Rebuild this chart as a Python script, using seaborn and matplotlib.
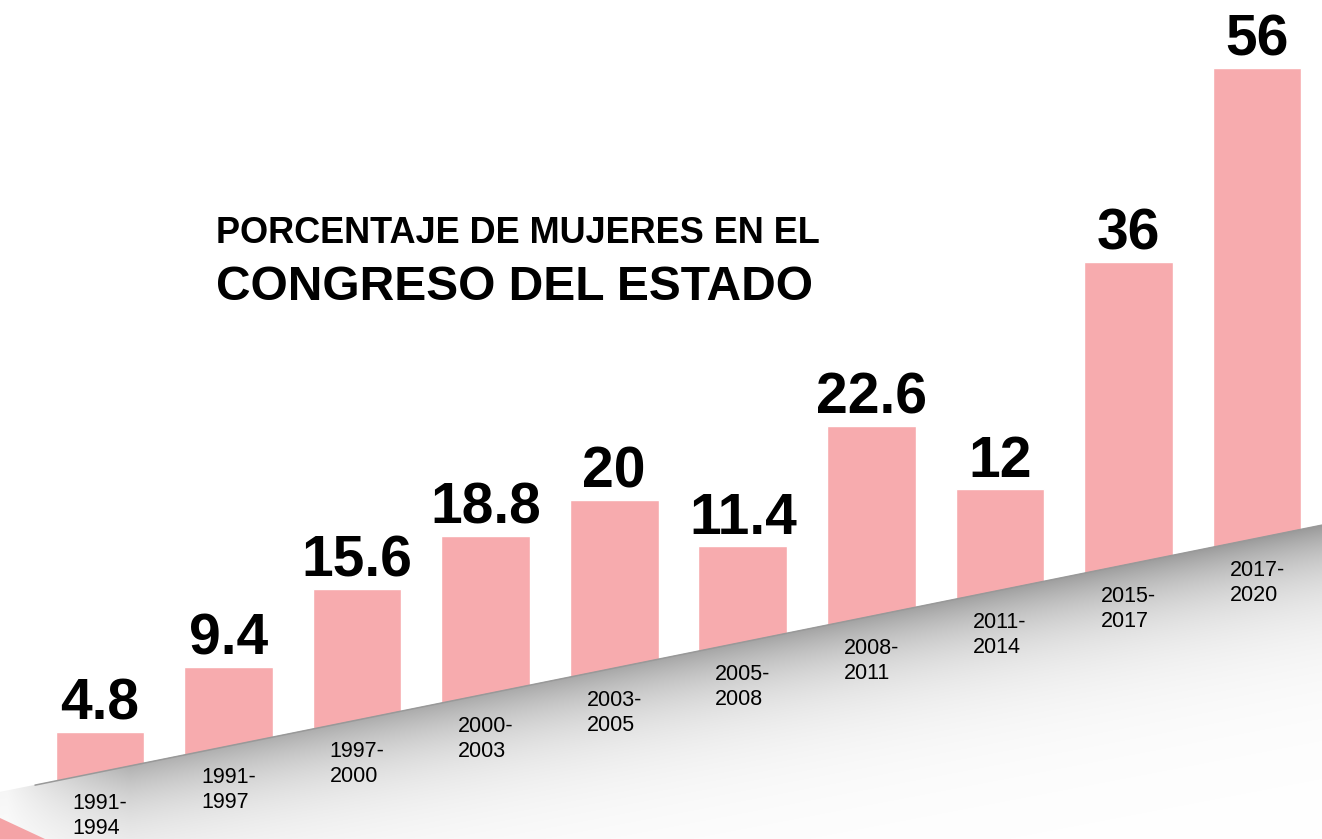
import numpy as np
import pandas as pd
import matplotlib
matplotlib.use('Agg')
import matplotlib.pyplot as plt
import seaborn as sns
from matplotlib.patches import Polygon

sns.set_style('white')
plt.rcParams['font.family'] = ['Liberation Sans', 'DejaVu Sans']
plt.rcParams['text.color'] = 'black'

# data
periodos = ['1991-\n1994', '1991-\n1997', '1997-\n2000', '2000-\n2003', '2003-\n2005',
            '2005-\n2008', '2008-\n2011', '2011-\n2014', '2015-\n2017', '2017-\n2020']
valores = [4.8, 9.4, 15.6, 18.8, 20, 11.4, 22.6, 12, 36, 56]
titulo_1 = 'PORCENTAJE DE MUJERES EN EL'
titulo_2 = 'CONGRESO DEL ESTADO'

rosa = '#f7abae'
W, H = 1322, 839

# layout: slanted floor, bars stand on it
px_x = 128.56          # px per bar slot
px_y = 8.4             # px per percent point
B = 6.0                # floor height under first bar (data units)
k = 0.202 * px_x / px_y  # floor rise per bar
xlim = (-100 / px_x, 9 + (W - 1257) / px_x)
ylim = (B - (H - 772) / px_y, B + 772 / px_y)

idx = np.arange(len(valores))
df = pd.DataFrame({'periodo': periodos, 'valor': valores})
df['piso'] = B + k * idx
df['tope'] = df['piso'] + df['valor']

fig = plt.figure(figsize=(W / 100, H / 100), dpi=100)
ax = fig.add_axes([0, 0, 1, 1])
sns.barplot(data=df, x='periodo', y='tope', color=rosa, saturation=1,
            width=0.69, ax=ax, zorder=2)
ax.set_xlim(*xlim)
ax.set_ylim(*ylim)
ax.axis('off')

# floor: white below the slanted line with a grey shadow fading downwards
gx = np.linspace(xlim[0], xlim[1], W)
gy = np.linspace(ylim[0], ylim[1], H)
X, Y = np.meshgrid(gx, gy)
d = (B + k * X - Y) * px_y
xpx = (X - xlim[0]) * px_x
fade = np.clip((xpx + 10) / 140, 0.12, 1)
a = (0.30 + 0.1 * xpx / W) * fade
v = 1 - a * np.exp(-np.clip(d, 0, None) / 55)
img = np.dstack([v, v, v, np.clip(d + 0.5, 0, 1)])
ax.imshow(img, extent=(*xlim, *ylim), origin='lower', aspect='auto',
          interpolation='bilinear', zorder=3)
x0 = xlim[0] + 35 / px_x
ax.plot([x0, xlim[1]], [B + k * x0, B + k * xlim[1]], color='#999999', lw=1.1, zorder=4)

# pink corner bottom left
ax.add_patch(Polygon([(0, 21 / H), (0, 0), (45 / W, 0)], closed=True,
                     transform=ax.transAxes, color='#f4a3a6', lw=0, zorder=5))

for i, row in df.iterrows():
    ax.annotate(f"{row['valor']:g}", (i, row['tope']), xytext=(0, 9),
                textcoords='offset points', ha='center', va='baseline',
                fontsize=41, fontweight='bold', color='black', zorder=6)
    ax.text(i, row['piso'] - 2.55, row['periodo'], ha='center', va='top',
            multialignment='left', fontsize=15.5, linespacing=1.25,
            color='black', zorder=6)

fig.text(216 / W, 1 - 243 / H, titulo_1, fontsize=26, fontweight='bold',
         color='black', va='baseline', ha='left')
fig.text(216 / W, 1 - 300 / H, titulo_2, fontsize=34.5, fontweight='bold',
         color='black', va='baseline', ha='left')

fig.savefig('out.png', dpi=100)
